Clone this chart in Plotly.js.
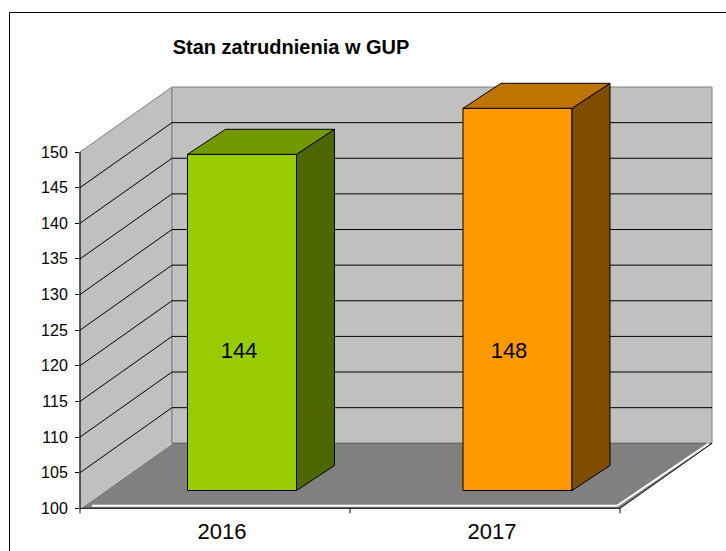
<!DOCTYPE html>
<html>
<head>
<meta charset="utf-8">
<script src="https://cdn.plot.ly/plotly-3.0.1.min.js"></script>
<style>html,body{margin:0;padding:0;background:#fff}#chart{width:726px;height:551px}</style>
</head>
<body>
<div id="chart"></div>
<script>
// ---- data ----
const categories = ['2016', '2017'];
const values = [144, 148];
const yTickValues = [100, 105, 110, 115, 120, 125, 130, 135, 140, 145, 150];
const chartTitle = 'Stan zatrudnienia w GUP';

// ---- styles ----
const FONT = '"Liberation Sans", Arial, sans-serif';
const frontColors = ['#99cc00', '#ff9900'];
const topColors = ['#739900', '#bf7300'];
const sideColors = ['#4d6600', '#804d00'];

// ---- geometry (layout constants) ----
const W = 726, H = 551;
const X0_PX = 80, CAT_PX = 270;          // front floor edge: left pixel, pixels per category
const Y100_PX = 508.3, Y_PX_PER = 7.126;   // front plane value scale
const yMin = yTickValues[0], yMax = yTickValues[yTickValues.length - 1];
const xRange = [-0.5 - X0_PX / CAT_PX, -0.5 + (W - X0_PX) / CAT_PX];
const yRange = [yMin - (H - Y100_PX) / Y_PX_PER, yMin + Y100_PX / Y_PX_PER];
const DX = 92 / CAT_PX, DY = 65 / Y_PX_PER;  // wall depth

// bar scale (perspective-like, secondary axis)
const B_REF_V = 144, B_REF_PX = 154.3, B_PX_PER = 11.5;
const y2Range = [B_REF_V - (H - B_REF_PX) / B_PX_PER, B_REF_V + B_REF_PX / B_PX_PER];
const BAR_BASE = B_REF_V - (490.5 - B_REF_PX) / B_PX_PER;
const BAR_SHIFT = 27 / CAT_PX, BAR_SPREAD = 5.5 / CAT_PX, BAR_W = 109 / CAT_PX;
const BDX = 38 / CAT_PX, BDY = 25 / B_PX_PER;
const LABEL_SHIFT = 24 / CAT_PX, LABEL_V = 126.8;

const idx = categories.map((c, i) => i);
const L = -0.5, R = categories.length - 0.5;
const barCenter = i => i + BAR_SHIFT + BAR_SPREAD * i;

// ---- traces ----
const traces = [];
traces.push({
  type: 'bar', x: idx.map(barCenter), y: values.map(v => v - BAR_BASE), base: idx.map(() => BAR_BASE),
  width: BAR_W,
  xaxis: 'x', yaxis: 'y2',
  marker: { color: frontColors, line: { color: '#000', width: 1 } },
  hoverinfo: 'skip'
});
values.forEach((v, i) => {
  const xl = barCenter(i) - BAR_W / 2, xr = barCenter(i) + BAR_W / 2;
  traces.push({
    type: 'scatter', mode: 'lines', fill: 'toself', xaxis: 'x', yaxis: 'y2',
    x: [xr, xr, xr + BDX, xr + BDX, xr],
    y: [BAR_BASE, v, v + BDY, BAR_BASE + BDY, BAR_BASE],
    fillcolor: sideColors[i], line: { color: '#000', width: 1 }, hoverinfo: 'skip'
  });
  traces.push({
    type: 'scatter', mode: 'lines', fill: 'toself', xaxis: 'x', yaxis: 'y2',
    x: [xl, xr, xr + BDX, xl + BDX, xl],
    y: [v, v, v + BDY, v + BDY, v],
    fillcolor: topColors[i], line: { color: '#000', width: 1 }, hoverinfo: 'skip'
  });
});
traces.push({
  type: 'scatter', mode: 'text', xaxis: 'x', yaxis: 'y2',
  x: idx.map(i => i + LABEL_SHIFT), y: idx.map(() => LABEL_V),
  text: values.map(String), textposition: 'middle center',
  textfont: { family: FONT, size: 22, color: '#000' }, cliponaxis: false, hoverinfo: 'skip'
});

// ---- shapes (walls, grid) ----
const shapes = [];
const P = pts => 'M' + pts.map(p => p[0] + ',' + p[1]).join(' L') + ' Z';
const dataLine = (x0, y0, x1, y1, color, width) => ({
  type: 'line', xref: 'x', yref: 'y', x0, y0, x1, y1, layer: 'below',
  line: { color, width: width || 1 }
});
// left wall
shapes.push({ type: 'path', xref: 'x', yref: 'y', layer: 'below',
  path: P([[L, yMin], [L, yMax], [L + DX, yMax + DY], [L + DX, yMin + DY]]),
  fillcolor: '#c0c0c0', line: { color: '#808080', width: 1 } });
// back wall
shapes.push({ type: 'rect', xref: 'x', yref: 'y', layer: 'below',
  x0: L + DX, x1: R + DX, y0: yMin + DY, y1: yMax + DY,
  fillcolor: '#c0c0c0', line: { color: '#808080', width: 1 } });
// floor
shapes.push({ type: 'path', xref: 'x', yref: 'y', layer: 'below',
  path: P([[L, yMin], [R, yMin], [R + DX, yMin + DY], [L + DX, yMin + DY]]),
  fillcolor: '#808080', line: { width: 0 } });
shapes.push(dataLine(L + DX, yMin + DY, R + DX, yMin + DY, '#606060', 1));
// gridlines
yTickValues.slice(1, -1).forEach(v => {
  shapes.push(dataLine(L + DX, v + DY, R + DX, v + DY, '#000', 1));
  shapes.push(dataLine(L, v, L + DX, v + DY, '#000', 1));
});
// floor highlights and front edges
const up = 2.5 / Y_PX_PER, lf = 3 / CAT_PX;
shapes.push(dataLine(L + 4 * lf, yMin + up, R - lf, yMin + up, '#ffffff', 2));
shapes.push(dataLine(R - lf, yMin + up, R + DX - lf, yMin + DY, '#ffffff', 2));
shapes.push(dataLine(L, yMin, L + DX, yMin + DY, '#e0e0e0', 1));
shapes.push(dataLine(L, yMin, R, yMin, '#000', 1));
shapes.push(dataLine(R, yMin, R + DX, yMin + DY, '#000', 1));
shapes.push(dataLine(L, yMin, L, yMax, '#000', 1));
// category boundary ticks
for (let i = 0; i <= categories.length; i++) {
  shapes.push(dataLine(i - 0.5, yMin, i - 0.5, yMin - 5 / Y_PX_PER, '#000', 1));
}
// outer border
shapes.push({ type: 'rect', xref: 'paper', yref: 'paper', layer: 'above',
  x0: 9.5 / W, x1: 1.05, y0: -0.05, y1: 1 - 12.5 / H,
  line: { color: '#000', width: 1 }, fillcolor: 'rgba(0,0,0,0)' });

const layout = {
  width: W, height: H,
  margin: { l: 0, r: 0, t: 0, b: 0, pad: 0 },
  paper_bgcolor: '#ffffff', plot_bgcolor: '#ffffff',
  showlegend: false, hovermode: false,
  font: { family: FONT, color: '#000' },
  title: { text: chartTitle, font: { family: FONT, size: 20, color: '#000', weight: 'bold' },
    x: 291 / W, xanchor: 'center', y: 1 - 47 / H, yanchor: 'middle' },
  xaxis: { range: xRange, anchor: 'free', position: 1 - Y100_PX / H,
    tickmode: 'array', tickvals: idx, ticktext: categories, ticks: '',
    ticklabelshift: 7, ticklabelstandoff: 8,
    showline: false, showgrid: false, zeroline: false,
    tickfont: { family: FONT, size: 22, color: '#000' } },
  yaxis: { range: yRange, anchor: 'free', position: 79 / W,
    tickmode: 'array', tickvals: yTickValues, ticks: 'outside', ticklen: 4, tickwidth: 1, tickcolor: '#000',
    ticklabelstandoff: 4,
    showline: false, showgrid: false, zeroline: false,
    tickfont: { family: FONT, size: 16, color: '#000' } },
  yaxis2: { range: y2Range, overlaying: 'y', visible: false },
  shapes
};

Plotly.newPlot('chart', traces, layout, { staticPlot: true, displayModeBar: false });
</script>
</body>
</html>
